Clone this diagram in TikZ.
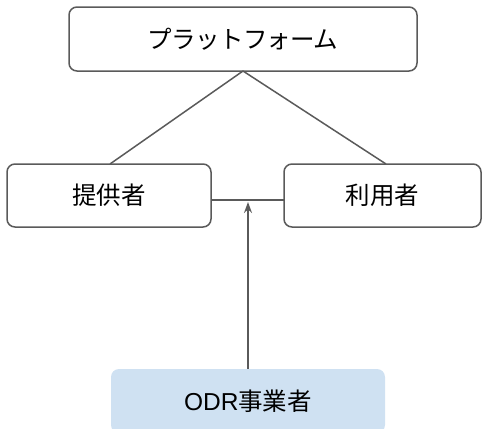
\documentclass[tikz,border=0pt]{standalone}
\usepackage{fontspec}
\setmainfont{Noto Sans CJK JP}
\newfontfamily\latinfont{Liberation Sans}
\usetikzlibrary{arrows.meta}
\definecolor{edge}{HTML}{5A5A5A}
\definecolor{odrfill}{HTML}{CFE1F2}
\tikzset{
  x=1pt, y=1pt,
  box/.style={draw=edge, line width=1.5pt, rounded corners=8pt, fill=white, inner sep=0pt, font=\fontsize{24.5}{28}\selectfont},
  odrbox/.style={draw=none, rounded corners=8pt, fill=odrfill, inner sep=0pt, font=\fontsize{24.5}{28}\selectfont},
  conn/.style={draw=edge, line width=1.5pt},
}
\begin{document}
\begin{tikzpicture}
\useasboundingbox (0,0) rectangle (483,-429);
\clip (0,0) rectangle (483,-429);
\node[box, minimum width=348pt, minimum height=64pt] (plat) at (243,-39) {\addfontfeature{LetterSpace=-3}プラットフォーム};
\node[box, minimum width=204pt, minimum height=63pt] (prov) at (109,-195.5) {提供者};
\node[box, minimum width=197pt, minimum height=63pt] (user) at (382.5,-195.5) {利用者};
\node[odrbox, minimum width=274pt, minimum height=64pt] (odr) at (248,-401) {{\latinfont ODR}事業者};
\coordinate (apex) at (243,-71);
\coordinate (pl) at (110,-164);
\coordinate (ur) at (386,-164);
\coordinate (hl) at (211,-200);
\coordinate (hr) at (284,-200);
\coordinate (tip) at (248,-202);
\draw[conn] (apex) -- (pl);
\draw[conn] (apex) -- (ur);
\draw[conn] (hl) -- (hr);
\draw[conn, -{Stealth[length=11pt, width=8pt]}] (odr.north -| tip) -- (tip);
\end{tikzpicture}
\end{document}
